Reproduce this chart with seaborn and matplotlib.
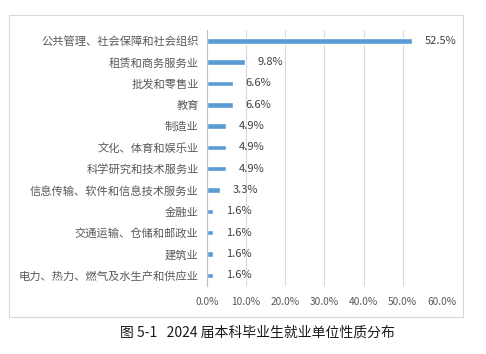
import numpy as np
import matplotlib as mpl
import matplotlib.pyplot as plt
import seaborn as sns
from matplotlib.patches import Rectangle

# 2024届本科毕业生就业单位性质分布
categories = ['公共管理、社会保障和社会组织', '租赁和商务服务业', '批发和零售业', '教育',
              '制造业', '文化、体育和娱乐业', '科学研究和技术服务业',
              '信息传输、软件和信息技术服务业', '金融业', '交通运输、仓储和邮政业',
              '建筑业', '电力、热力、燃气及水生产和供应业']
values = [52.5, 9.8, 6.6, 6.6, 4.9, 4.9, 4.9, 3.3, 1.6, 1.6, 1.6, 1.6]
xticks = [0, 10, 20, 30, 40, 50, 60]
caption = '图 5-1   2024 届本科毕业生就业单位性质分布'

sns.set_theme(style='white')
plt.rcParams['font.family'] = ['Noto Sans CJK SC', 'DejaVu Sans']

fig = plt.figure(figsize=(4.86, 3.54), dpi=100)
ax = fig.add_axes([0.426, 0.192, 0.483, 0.723])

sns.barplot(x=values, y=categories, orient='h', color='#5B9BD5',
            saturation=1, width=0.26, ax=ax)

ax.bar_label(ax.containers[0], labels=['%.1f%%' % v for v in values],
             padding=9, fontsize=8, color='#404040')

ax.set_xlim(0, 60)
ax.set_xticks(xticks)
ax.set_xticklabels(['%.1f%%' % t for t in xticks], fontsize=7.3, color='#595959')
ax.tick_params(axis='x', length=0, pad=8)
ax.tick_params(axis='y', length=0, pad=6, labelsize=8.1, labelcolor='#595959')
ax.xaxis.grid(True, color='#D9D9D9', linewidth=0.8)
ax.set_axisbelow(True)
for s in ['top', 'right', 'bottom']:
    ax.spines[s].set_visible(False)
ax.spines['left'].set_color('#BFBFBF')
ax.spines['left'].set_linewidth(0.8)
ax.set_xlabel('')
ax.set_ylabel('')

# outer chart frame
fig.patches.append(Rectangle((9 / 486, 1 - 317 / 354), 454 / 486, 302 / 354,
                             transform=fig.transFigure, fill=False,
                             edgecolor='#D9D9D9', linewidth=0.8))

fig.text(257 / 486, 1 - 333 / 354, caption, ha='center', va='center',
         fontsize=10, color='#1a1a1a')

fig.savefig('out.png', dpi=100)
